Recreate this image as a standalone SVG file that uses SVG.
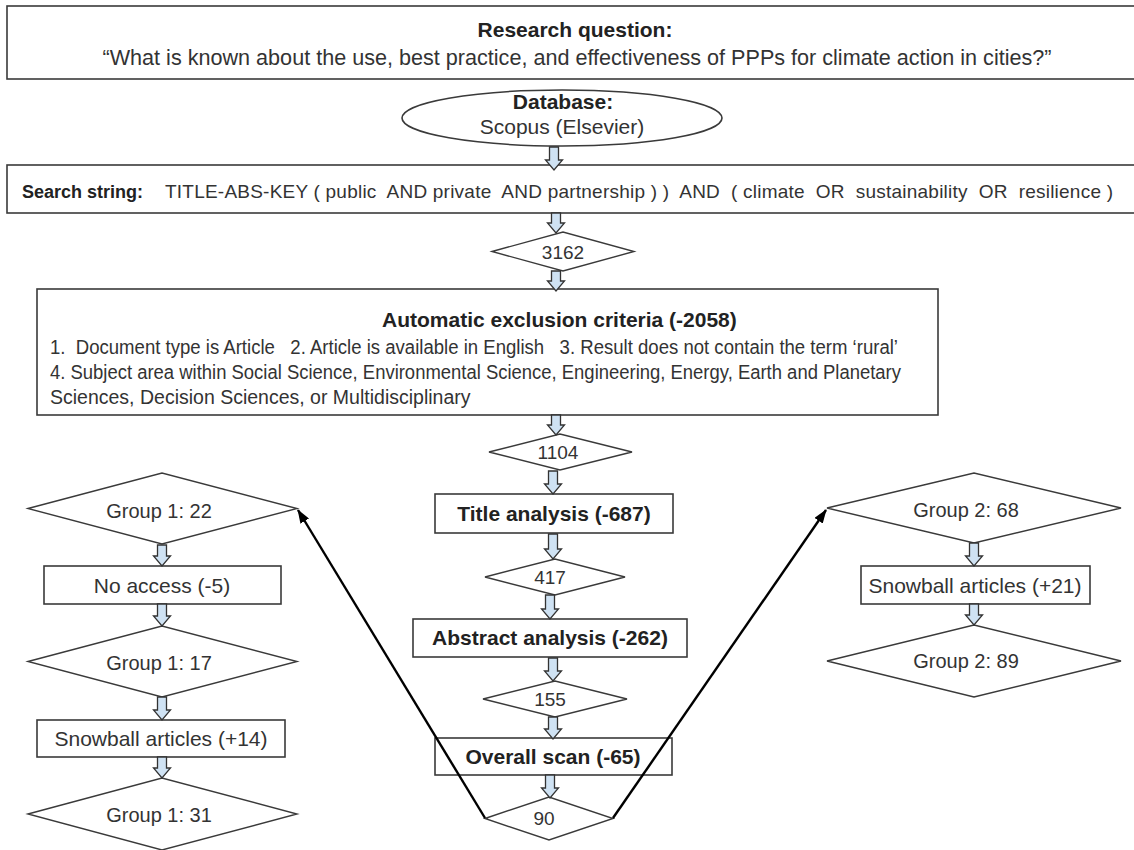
<svg xmlns="http://www.w3.org/2000/svg" width="1134" height="850" viewBox="0 0 1134 850">
  <style>
    .box { fill: #ffffff; stroke: #3a3a3a; stroke-width: 1.6; }
    .dia { fill: #ffffff; stroke: #3a3a3a; stroke-width: 1.4; }
    .blk { fill: #cfe2f3; stroke: #333333; stroke-width: 1.3; stroke-linejoin: miter; }
    .link { fill: none; stroke: #000000; stroke-width: 2.4; }
    text { font-family: "Liberation Sans", Arial, sans-serif; fill: #333333; font-size: 21px; }
    .b { font-weight: bold; fill: #222222; }
    .c { text-anchor: middle; }
    .pre { white-space: pre; }
    .crit { font-size: 19.5px; }
    .num { font-size: 19px; }
    .grp { font-size: 20px; }
  </style>
  <defs>
    <marker id="head" viewBox="0 0 14 10" refX="13" refY="5" markerWidth="14" markerHeight="10" markerUnits="userSpaceOnUse" orient="auto">
      <path d="M0,0 L14,5 L0,10 Z" fill="#000000"/>
    </marker>
  </defs>

  <!-- research question -->
  <g id="question">
    <rect class="box" x="7" y="6" width="1140" height="73"/>
    <text class="b c" x="575" y="37">Research question:</text>
    <text class="c" x="577" y="65" style="font-size:21.6px">“What is known about the use, best practice, and effectiveness of PPPs for climate action in cities?”</text>
  </g>

  <!-- database -->
  <g id="database">
    <ellipse class="box" cx="562" cy="118" rx="160" ry="28"/>
    <text class="b c" x="563" y="109">Database:</text>
    <text class="c" x="562" y="134">Scopus (Elsevier)</text>
  </g>

  <!-- search string -->
  <g id="search">
    <rect class="box" x="7" y="165" width="1140" height="48"/>
    <text class="pre" x="22" y="198"><tspan class="b" style="font-size:18px">Search string:</tspan><tspan x="165" style="font-size:19px" textLength="948" lengthAdjust="spacing">TITLE-ABS-KEY ( public  AND private  AND partnership ) )  AND  ( climate  OR  sustainability  OR  resilience )</tspan></text>
  </g>

  <g id="n3162">
    <polygon class="dia" points="492,251.5 563,232 634,251.5 563,271"/>
    <text class="c num" x="563" y="259">3162</text>
  </g>

  <!-- automatic exclusion criteria -->
  <g id="exclusion">
    <rect class="box" x="37" y="289" width="901" height="126"/>
    <text class="b" x="382" y="327">Automatic exclusion criteria (-2058)</text>
    <text class="pre crit" x="50" y="354" textLength="848" lengthAdjust="spacingAndGlyphs">1.  Document type is Article   2. Article is available in English   3. Result does not contain the term ‘rural’</text>
    <text class="crit" x="50" y="379" textLength="851" lengthAdjust="spacingAndGlyphs">4. Subject area within Social Science, Environmental Science, Engineering, Energy, Earth and Planetary</text>
    <text class="crit" x="50" y="404">Sciences, Decision Sciences, or Multidisciplinary</text>
  </g>

  <g id="n1104">
    <polygon class="dia" points="489,452 560,434 632,452 560,470"/>
    <text class="c num" x="558" y="459">1104</text>
  </g>

  <g id="title-analysis">
    <rect class="box" x="435" y="494" width="238" height="39"/>
    <text class="b c" x="554" y="521">Title analysis (-687)</text>
  </g>

  <g id="n417">
    <polygon class="dia" points="485,577 555,559 625,577 555,595"/>
    <text class="c num" x="550" y="584">417</text>
  </g>

  <g id="abstract-analysis">
    <rect class="box" x="413" y="619" width="274" height="38"/>
    <text class="b c" x="550" y="645">Abstract analysis (-262)</text>
  </g>

  <g id="n155">
    <polygon class="dia" points="483,699 555,681 627,699 555,717"/>
    <text class="c num" x="550" y="706">155</text>
  </g>

  <g id="overall-scan">
    <rect class="box" x="435" y="738" width="237" height="37"/>
    <text class="b c" x="553" y="764">Overall scan (-65)</text>
  </g>

  <g id="n90">
    <polygon class="dia" points="485,818.5 549,797 613,818.5 549,840"/>
    <text class="c num" x="544" y="825">90</text>
  </g>

  <!-- group 1 branch -->
  <g id="g1-22">
    <polygon class="dia" points="28,508.5 162,473 297,508.5 162,544"/>
    <text class="c grp" x="159" y="518">Group 1: 22</text>
  </g>
  <g id="g1-noaccess">
    <rect class="box" x="44" y="566" width="237" height="38"/>
    <text class="c" x="162" y="593">No access (-5)</text>
  </g>
  <g id="g1-17">
    <polygon class="dia" points="28,661.5 162,626 297,661.5 162,697"/>
    <text class="c grp" x="159" y="670">Group 1: 17</text>
  </g>
  <g id="g1-snowball">
    <rect class="box" x="37" y="720" width="248" height="37"/>
    <text class="c" x="161" y="746">Snowball articles (+14)</text>
  </g>
  <g id="g1-31">
    <polygon class="dia" points="28,814 162,778 297,814 162,850"/>
    <text class="c grp" x="159" y="822">Group 1: 31</text>
  </g>

  <!-- group 2 branch -->
  <g id="g2-68">
    <polygon class="dia" points="827,508 974,473 1121,508 974,543"/>
    <text class="c grp" x="966" y="517">Group 2: 68</text>
  </g>
  <g id="g2-snowball">
    <rect class="box" x="861" y="566" width="229" height="38"/>
    <text class="c" x="975" y="593">Snowball articles (+21)</text>
  </g>
  <g id="g2-89">
    <polygon class="dia" points="827,661 974,625 1121,661 974,697"/>
    <text class="c grp" x="966" y="668">Group 2: 89</text>
  </g>

  <!-- connectors: block arrows down the flow, black lines out to the two groups -->
  <g id="connectors">
    <path class="blk" d="M549.5,147 V160 H545.5 L554,170 L562.5,160 H558.5 V147 Z"/>
    <path class="blk" d="M551.5,213 V223 H547.5 L556,233 L564.5,223 H560.5 V213 Z"/>
    <path class="blk" d="M551.5,271 V281 H547.5 L556,291 L564.5,281 H560.5 V271 Z"/>
    <path class="blk" d="M551.5,415 V425 H547.5 L556,435 L564.5,425 H560.5 V415 Z"/>
    <path class="blk" d="M548.5,471 V484 H544.5 L553,494 L561.5,484 H557.5 V471 Z"/>
    <path class="blk" d="M548.5,534 V549 H544.5 L553,559 L561.5,549 H557.5 V534 Z"/>
    <path class="blk" d="M545.5,595 V609 H541.5 L550,619 L558.5,609 H554.5 V595 Z"/>
    <path class="blk" d="M548.5,658 V671 H544.5 L553,681 L561.5,671 H557.5 V658 Z"/>
    <path class="blk" d="M548.5,717 V729 H544.5 L553,739 L561.5,729 H557.5 V717 Z"/>
    <path class="blk" d="M545.5,775 V788 H541.5 L550,798 L558.5,788 H554.5 V775 Z"/>

    <path class="blk" d="M157.5,545 V556 H153.5 L162,566 L170.5,556 H166.5 V545 Z"/>
    <path class="blk" d="M157.5,604 V616 H153.5 L162,626 L170.5,616 H166.5 V604 Z"/>
    <path class="blk" d="M157.5,697 V710 H153.5 L162,720 L170.5,710 H166.5 V697 Z"/>
    <path class="blk" d="M157.5,757 V768 H153.5 L162,778 L170.5,768 H166.5 V757 Z"/>

    <path class="blk" d="M969.5,543 V556 H965.5 L974,566 L982.5,556 H978.5 V543 Z"/>
    <path class="blk" d="M969.5,604 V615 H965.5 L974,625 L982.5,615 H978.5 V604 Z"/>

    <line class="link" x1="485" y1="818" x2="298" y2="510" marker-end="url(#head)"/>
    <line class="link" x1="613" y1="818" x2="826" y2="510" marker-end="url(#head)"/>
  </g>
</svg>
